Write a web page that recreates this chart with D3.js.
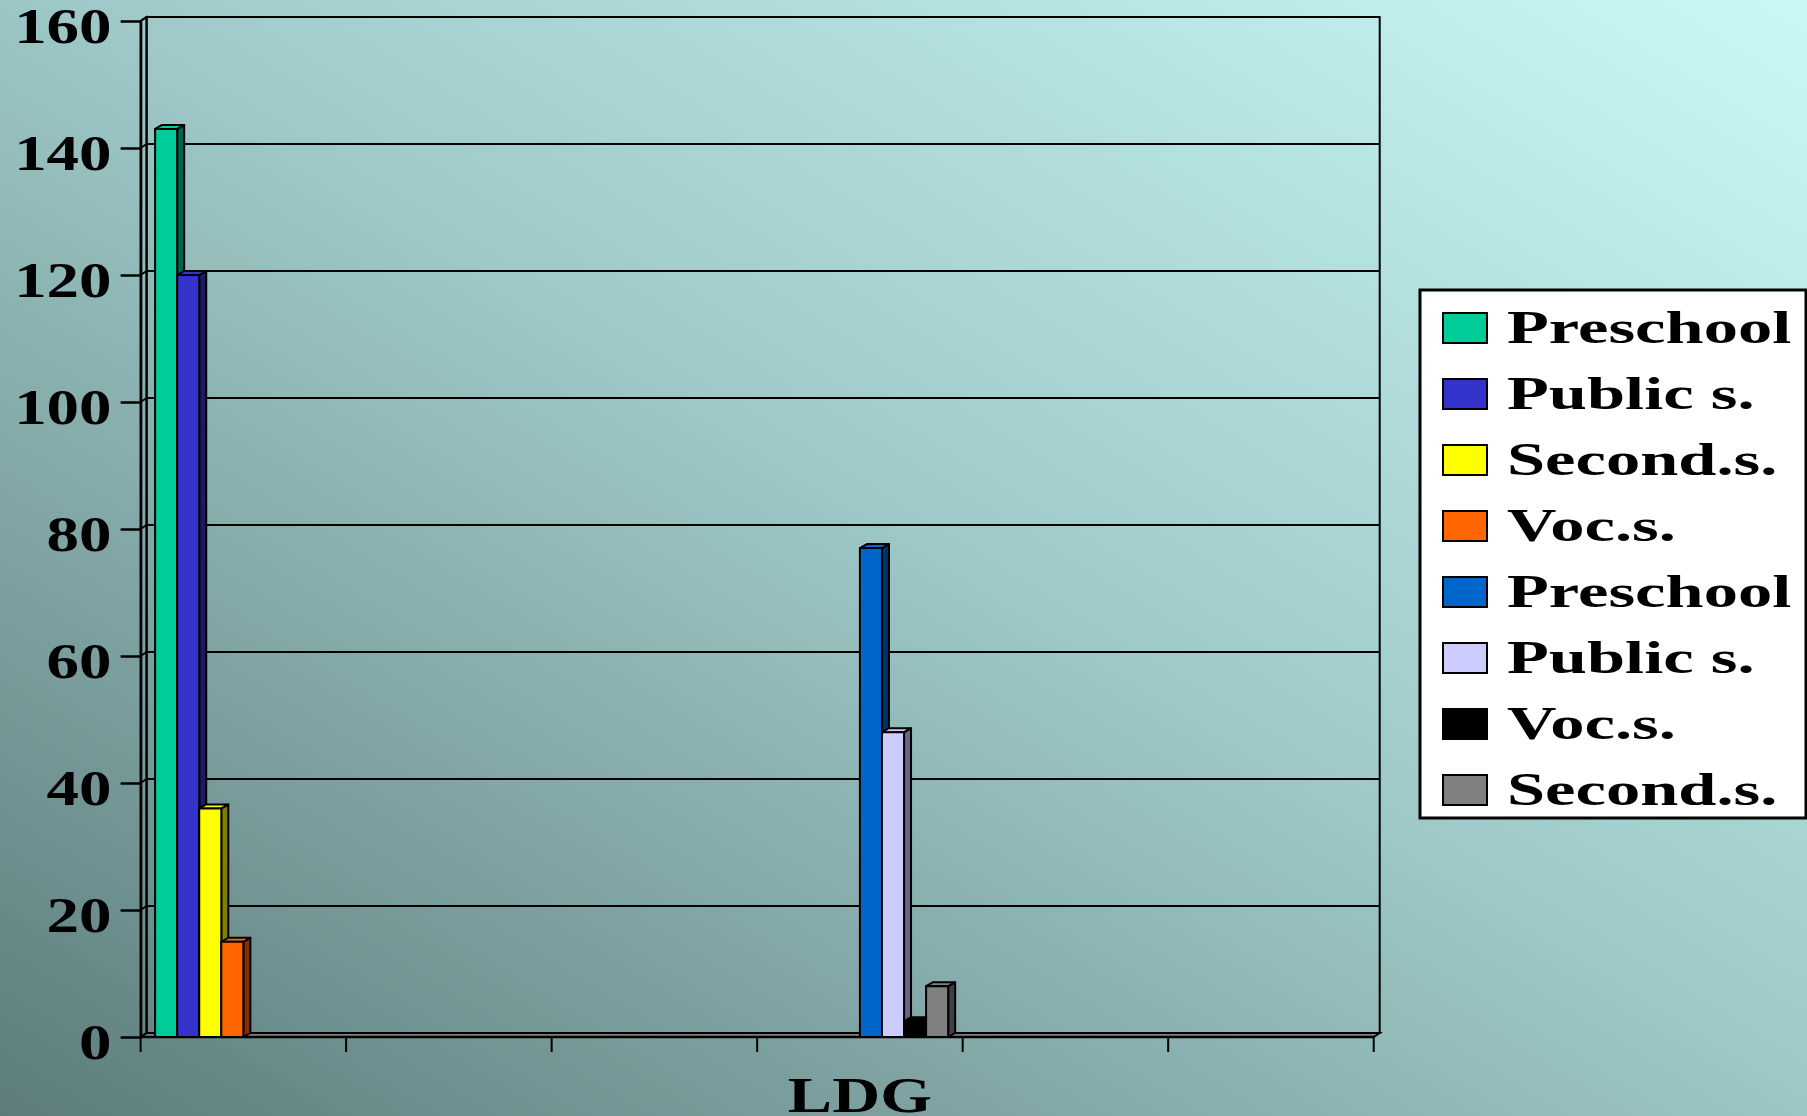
<!DOCTYPE html>
<html>

<head>
    <meta charset="utf-8">
    <script src="https://cdn.jsdelivr.net/npm/d3@7"></script>
    <title>LDG</title>
    <style>
        html, body {
            margin: 0;
            padding: 0;
        }
        body {
            width: 1807px;
            height: 1116px;
            overflow: hidden;
            background: linear-gradient(to top right, #5e7c7c 0%, #9ec9c8 52%, #c9f9f7 100%);
        }
        .bold {
            font-family: 'Liberation Serif', 'Times New Roman', serif;
            font-weight: bold;
            fill: #000;
        }
    </style>
</head>

<body>
    <div id="chart"></div>
    <script>
        // data
        var categories = ["", "", "", "LDG", "", ""];
        var seriesNames = ["Preschool", "Public s.", "Second.s.", "Voc.s.", "Preschool", "Public s.", "Voc.s.", "Second.s."];
        var seriesColors = ["#00CC99", "#3333CC", "#FFFF00", "#FF6600", "#0066CC", "#CCCCFF", "#000000", "#808080"];

        var preschoolA = [143, null, null, null, null, null];
        var publicA = [120, null, null, null, null, null];
        var secondA = [36, null, null, null, null, null];
        var vocA = [15, null, null, null, null, null];
        var preschoolB = [null, null, null, 77, null, null];
        var publicB = [null, null, null, 48, null, null];
        var vocB = [null, null, null, 2.5, null, null];
        var secondB = [null, null, null, 8, null, null];
        var seriesValues = [preschoolA, publicA, secondA, vocA, preschoolB, publicB, vocB, secondB];

        var yTicks = [0, 20, 40, 60, 80, 100, 120, 140, 160];

        var W = 1807, H = 1116;
        var pLeft = 140.6, pRight = 1373.7, pTop = 21, pBottom = 1037;
        var dx = 6, dy = -4;     // wall depth
        var bdx = 7, bdy = -4;   // bar depth

        var svg = d3.select("#chart").append("svg")
            .attr("width", W)
            .attr("height", H);

        var y = d3.scaleLinear().domain([0, 160]).range([pBottom, pTop]);
        var x = d3.scaleBand().domain(d3.range(categories.length)).range([pLeft, pRight]).padding(0);
        var xs = d3.scaleBand().domain(d3.range(seriesNames.length))
            .range([0, x.bandwidth()]).paddingInner(0).paddingOuter(0.657);

        // floor
        svg.append("path")
            .attr("d", "M" + pLeft + "," + pBottom + "L" + pRight + "," + pBottom +
                "L" + (pRight + dx) + "," + (pBottom + dy) + "L" + (pLeft + dx) + "," + (pBottom + dy) + "Z")
            .style("fill", "#808080").style("stroke", "#000").style("stroke-width", 2);

        // back wall
        svg.append("rect")
            .attr("x", pLeft + dx).attr("y", pTop + dy)
            .attr("width", pRight - pLeft).attr("height", pBottom - pTop)
            .style("fill", "none").style("stroke", "#000").style("stroke-width", 2);

        // left wall
        svg.append("path")
            .attr("d", "M" + pLeft + "," + pBottom + "L" + pLeft + "," + pTop +
                "L" + (pLeft + dx) + "," + (pTop + dy) + "L" + (pLeft + dx) + "," + (pBottom + dy) + "Z")
            .style("fill", "none").style("stroke", "#000").style("stroke-width", 2);

        // gridlines
        yTicks.forEach(function (t) {
            if (t === 0) return;
            svg.append("line")
                .attr("x1", pLeft + dx).attr("x2", pRight + dx)
                .attr("y1", y(t) + dy).attr("y2", y(t) + dy)
                .style("stroke", "#000").style("stroke-width", 2);
            svg.append("line")
                .attr("x1", pLeft).attr("x2", pLeft + dx)
                .attr("y1", y(t)).attr("y2", y(t) + dy)
                .style("stroke", "#000").style("stroke-width", 2);
        });

        // y axis
        var yAxis = svg.append("g")
            .attr("transform", "translate(" + pLeft + ",0)")
            .call(d3.axisLeft(y).tickValues(yTicks).tickSize(20).tickSizeOuter(0));
        yAxis.select(".domain").style("stroke", "#000").style("stroke-width", 2.5);
        yAxis.selectAll(".tick line").style("stroke", "#000").style("stroke-width", 2.5);
        yAxis.selectAll(".tick text")
            .attr("class", "bold")
            .attr("x", 0)
            .attr("dy", "0.42em")
            .attr("transform", "translate(-29,0) scale(1.3,1)")
            .style("font-size", "50px")
            .style("text-anchor", "end");

        // x axis line and boundary ticks
        svg.append("line")
            .attr("x1", pLeft).attr("x2", pRight).attr("y1", pBottom).attr("y2", pBottom)
            .style("stroke", "#000").style("stroke-width", 2.5);
        d3.range(categories.length + 1).forEach(function (i) {
            var xp = i < categories.length ? x(i) : pRight;
            svg.append("line")
                .attr("x1", xp).attr("x2", xp).attr("y1", pBottom).attr("y2", pBottom + 15)
                .style("stroke", "#000").style("stroke-width", 2);
        });

        // category labels
        var xAxis = svg.append("g")
            .attr("transform", "translate(0," + pBottom + ")")
            .call(d3.axisBottom(x).tickSize(0).tickFormat(function (i) { return categories[i]; }));
        xAxis.select(".domain").remove();
        xAxis.selectAll(".tick text")
            .attr("class", "bold")
            .attr("y", 0)
            .attr("dy", 0)
            .attr("transform", "translate(0,75) scale(1.33,1)")
            .style("font-size", "50px")
            .style("text-anchor", "middle");

        // bars
        function half(c) {
            var r = d3.rgb(c);
            return d3.rgb(r.r * 0.5, r.g * 0.5, r.b * 0.5).toString();
        }
        var bars = svg.append("g").style("stroke", "#000").style("stroke-width", 2).style("stroke-linejoin", "round");
        categories.forEach(function (cat, ci) {
            seriesValues.forEach(function (vals, si) {
                var v = vals[ci];
                if (v === null || v === undefined) return;
                var x0 = x(ci) + xs(si), w = xs.bandwidth();
                var yt = y(v), yb = y(0);
                var col = seriesColors[si];
                bars.append("path")
                    .attr("d", "M" + (x0 + w) + "," + yt + "L" + (x0 + w + bdx) + "," + (yt + bdy) +
                        "L" + (x0 + w + bdx) + "," + (yb + bdy) + "L" + (x0 + w) + "," + yb + "Z")
                    .style("fill", half(col));
                bars.append("path")
                    .attr("d", "M" + x0 + "," + yt + "L" + (x0 + bdx) + "," + (yt + bdy) +
                        "L" + (x0 + w + bdx) + "," + (yt + bdy) + "L" + (x0 + w) + "," + yt + "Z")
                    .style("fill", col);
                bars.append("rect")
                    .attr("x", x0).attr("y", yt)
                    .attr("width", w).attr("height", yb - yt)
                    .style("fill", col);
            });
        });

        // legend
        var legend = svg.append("g");
        legend.append("rect")
            .attr("x", 1420).attr("y", 290).attr("width", 386).attr("height", 528)
            .style("fill", "#fff").style("stroke", "#000").style("stroke-width", 3);
        seriesNames.forEach(function (name, i) {
            var ry = 313 + i * 66;
            legend.append("rect")
                .attr("x", 1443).attr("y", ry).attr("width", 44).attr("height", 30)
                .style("fill", seriesColors[i]).style("stroke", "#000").style("stroke-width", 2);
            legend.append("text")
                .attr("class", "bold")
                .attr("transform", "translate(1507," + (ry + 30) + ") scale(1.49,1)")
                .style("font-size", "46px")
                .text(name);
        });
    </script>
</body>

</html>
